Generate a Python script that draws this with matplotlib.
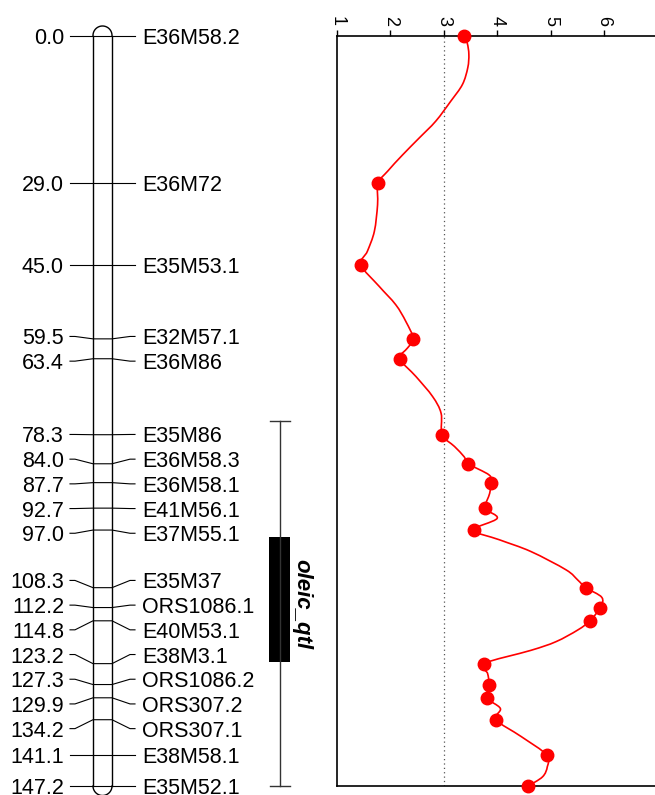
import numpy as np
import matplotlib
matplotlib.use("Agg")
import matplotlib.pyplot as plt
from matplotlib.path import Path
from matplotlib.patches import PathPatch

plt.rcParams['font.family'] = ['Liberation Sans', 'DejaVu Sans']

# markers on the linkage group (cM) and their names
marker_pos = [0.0, 29.0, 45.0, 59.5, 63.4, 78.3, 84.0, 87.7, 92.7, 97.0,
              108.3, 112.2, 114.8, 123.2, 127.3, 129.9, 134.2, 141.1, 147.2]
marker_names = ['E36M58.2', 'E36M72', 'E35M53.1', 'E32M57.1', 'E36M86',
                'E35M86', 'E36M58.3', 'E36M58.1', 'E41M56.1', 'E37M55.1',
                'E35M37', 'ORS1086.1', 'E40M53.1', 'E38M3.1', 'ORS1086.2',
                'ORS307.2', 'ORS307.1', 'E38M58.1', 'E35M52.1']
# LOD at each marker
marker_lod = [3.38, 1.77, 1.45, 2.43, 2.18, 2.97, 3.46, 3.88, 3.78, 3.56,
              5.66, 5.93, 5.74, 3.75, 3.85, 3.81, 3.98, 4.93, 4.58]

# LOD profile
curve_pos = [0.0, 1.5, 3.7, 6.3, 9.6, 12.9, 16.8, 20.1, 23.4, 26.6, 29.0,
             33.2, 38.4, 42.3, 45.0, 49.2, 52.8, 56.1, 59.5, 61.3, 63.4,
             66.9, 70.8, 74.1, 78.3, 80.6, 82.6, 84.0, 86.2, 87.7, 89.8,
             92.7, 94.7, 97.0, 98.9, 101.2, 104.8, 106.8, 108.3, 110.2,
             112.2, 114.8, 116.6, 118.9, 120.6, 123.2, 125.1, 127.3, 129.9,
             132.0, 134.2, 137.5, 141.1, 143.4, 145.4, 147.2]
curve_lod = [3.38, 3.44, 3.47, 3.45, 3.35, 3.13, 2.85, 2.54, 2.23, 1.95, 1.77,
             1.76, 1.70, 1.57, 1.45, 1.79, 2.10, 2.29, 2.43, 2.32, 2.18,
             2.48, 2.79, 2.95, 2.97, 3.20, 3.38, 3.46, 3.85, 3.88, 3.86,
             3.78, 4.00, 3.56, 4.04, 4.63, 5.29, 5.51, 5.66, 5.96,
             5.93, 5.74, 5.51, 5.10, 4.63, 3.75, 3.82, 3.85, 3.81,
             4.06, 3.98, 4.45, 4.93, 4.94, 4.85, 4.58]

lod_threshold = 3.0
qtl_name = 'oleic_qtl'
qtl_outer = (75.6, 147.2)
qtl_inner = (98.3, 122.9)
lod_ticks = [1, 2, 3, 4, 5, 6, 7]

W, H = 655, 795
fig = plt.figure(figsize=(W / 100, H / 100), dpi=100)

top_px, bot_px = 35.5, 786.0
ymax = marker_pos[-1]
ppc = (bot_px - top_px) / ymax  # pixels per cM

ax0 = fig.add_axes([0, 1 - bot_px / H, 337 / W, (bot_px - top_px) / H])
ax0.set_xlim(0, 337)
ax0.set_ylim(ymax, 0)
ax0.axis('off')


def spread(pos, gap):
    # push overlapping labels apart, each cluster centred on its markers
    groups = [[p] for p in pos]
    while True:
        out = []
        for g in groups:
            c, n = np.mean(g), len(g)
            out.append([c + (i - (n - 1) / 2) * gap for i in range(n)])
        merged = False
        for i in range(len(groups) - 1):
            if out[i + 1][0] - out[i][-1] < gap - 1e-9:
                groups[i] = groups[i] + groups.pop(i + 1)
                merged = True
                break
        if not merged:
            return [p for o in out for p in o]


label_pos = spread(marker_pos, 24.7 / ppc)
txt_off = 2.5 / ppc

# chromosome
xl, xr = 93, 112
r = (xr - xl) / 2
xc = (xl + xr) / 2
t = np.linspace(0, np.pi, 60)
ax0.plot(xc + r * np.cos(t), 0 - r * np.sin(t) / ppc, color='black', lw=1.0, clip_on=False)
ax0.plot(xc + r * np.cos(t), ymax + r * np.sin(t) / ppc, color='black', lw=1.0, clip_on=False)
ax0.plot([xl, xl], [0, ymax], color='black', lw=1.0, clip_on=False)
ax0.plot([xr, xr], [0, ymax], color='black', lw=1.0, clip_on=False)

for p, lp, name in zip(marker_pos, label_pos, marker_names):
    ax0.plot([70, 75, xl, xr, 130, 135], [lp, lp, p, p, lp, lp],
             color='black', lw=0.8, clip_on=False)
    ax0.text(64, lp + txt_off, '%.1f' % p, ha='right', va='center', fontsize=15.5)
    ax0.text(142, lp + txt_off, name, ha='left', va='center', fontsize=15.5)

# QTL interval
qx = 280
ax0.plot([qx, qx], qtl_outer, color='#333333', lw=1.0, clip_on=False)
for yy in qtl_outer:
    ax0.plot([qx - 10, qx + 10], [yy, yy], color='#333333', lw=1.0, clip_on=False)
ax0.fill_between([qx - 11, qx + 10], qtl_inner[0], qtl_inner[1], color='black', lw=0)
ax0.text(302, np.mean(qtl_inner) + 1.0, qtl_name, rotation=-90, ha='center', va='center',
         fontsize=16, fontweight='bold', fontstyle='italic')

# LOD profile
ax1 = fig.add_axes([337 / W, 1 - bot_px / H, (684 - 337) / W, (bot_px - top_px) / H])
ax1.set_xlim(1, 7.5)
ax1.set_ylim(ymax, 0)
ax1.axvline(lod_threshold, color='#555555', lw=0.9, ls=(0, (1, 2.5)))

# smooth path through the read points (Catmull-Rom as cubic Bezier)
pts = np.column_stack([curve_lod, curve_pos])
ext = np.vstack([pts[0], pts, pts[-1]])
verts = [pts[0]]
codes = [Path.MOVETO]
for i in range(len(pts) - 1):
    p0, p1, p2, p3 = ext[i], ext[i + 1], ext[i + 2], ext[i + 3]
    verts += [p1 + (p2 - p0) / 6, p2 - (p3 - p1) / 6, p2]
    codes += [Path.CURVE4] * 3
ax1.add_patch(PathPatch(Path(verts, codes), fill=False, edgecolor='red', lw=1.2,
                        clip_on=False))
ax1.plot(marker_lod, marker_pos, 'o', color='red', ms=9, clip_on=False, zorder=5)
ax1.set_xticks(lod_ticks)
ax1.set_yticks([])
ax1.xaxis.tick_top()
ax1.tick_params(axis='x', direction='out', length=4, width=1, labelsize=13,
                labelrotation=-90, pad=3)
for s in ['top', 'left', 'bottom']:
    ax1.spines[s].set_linewidth(1.2)
ax1.spines['right'].set_visible(False)

fig.savefig('out.png', dpi=100)
